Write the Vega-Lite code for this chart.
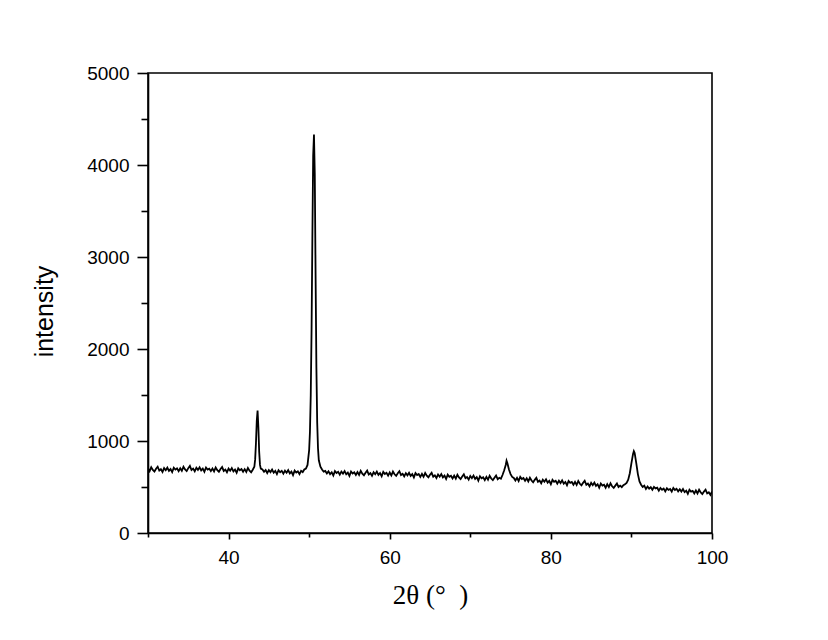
{
  "$schema": "https://vega.github.io/schema/vega-lite/v6.json",
  "width": 564,
  "height": 460,
  "autosize": {"type": "none"},
  "padding": {"left": 148, "top": 73, "right": 116, "bottom": 107},
  "background": "white",
  "config": {
    "view": {"stroke": "black", "strokeWidth": 1.6},
    "axis": {
      "domainColor": "black", "domainWidth": 1.6,
      "tickColor": "black", "tickWidth": 1.6,
      "labelColor": "black", "labelFont": "Liberation Sans", "labelFontSize": 19,
      "titleColor": "black", "grid": false
    }
  },
  "data": {"values": [
    {"t":30.0,"i":702},{"t":30.2,"i":672},{"t":30.4,"i":715},{"t":30.6,"i":685},{"t":30.8,"i":668},{"t":31.0,"i":698},{"t":31.2,"i":720},{"t":31.4,"i":678},{"t":31.6,"i":693},{"t":31.8,"i":664},
    {"t":32.0,"i":705},{"t":32.2,"i":682},{"t":32.4,"i":710},{"t":32.6,"i":675},{"t":32.8,"i":695},{"t":33.0,"i":662},{"t":33.2,"i":710},{"t":33.4,"i":689},{"t":33.6,"i":702},{"t":33.8,"i":672},
    {"t":34.0,"i":704},{"t":34.2,"i":676},{"t":34.4,"i":719},{"t":34.6,"i":690},{"t":34.8,"i":673},{"t":35.0,"i":705},{"t":35.2,"i":730},{"t":35.4,"i":685},{"t":35.6,"i":700},{"t":35.8,"i":671},
    {"t":36.0,"i":710},{"t":36.2,"i":686},{"t":36.4,"i":714},{"t":36.6,"i":680},{"t":36.8,"i":700},{"t":37.0,"i":665},{"t":37.2,"i":712},{"t":37.4,"i":690},{"t":37.6,"i":700},{"t":37.8,"i":672},
    {"t":38.0,"i":700},{"t":38.2,"i":670},{"t":38.4,"i":712},{"t":38.6,"i":683},{"t":38.8,"i":666},{"t":39.0,"i":695},{"t":39.2,"i":717},{"t":39.4,"i":675},{"t":39.6,"i":690},{"t":39.8,"i":660},
    {"t":40.0,"i":700},{"t":40.2,"i":677},{"t":40.4,"i":705},{"t":40.6,"i":670},{"t":40.8,"i":690},{"t":41.0,"i":655},{"t":41.2,"i":703},{"t":41.4,"i":682},{"t":41.6,"i":695},{"t":41.8,"i":665},
    {"t":42.0,"i":694},{"t":42.2,"i":664},{"t":42.4,"i":707},{"t":42.6,"i":677},{"t":42.8,"i":660},{"t":43.0,"i":688},{"t":43.2,"i":720},{"t":43.3,"i":800},{"t":43.4,"i":980},{"t":43.5,"i":1220},
    {"t":43.6,"i":1330},{"t":43.7,"i":1150},{"t":43.8,"i":880},{"t":43.9,"i":740},{"t":44.0,"i":700},{"t":44.2,"i":690},{"t":44.4,"i":665},{"t":44.6,"i":685},{"t":44.8,"i":652},
    {"t":45.0,"i":683},{"t":45.2,"i":662},{"t":45.4,"i":690},{"t":45.6,"i":655},{"t":45.8,"i":675},{"t":46.0,"i":640},{"t":46.2,"i":682},{"t":46.4,"i":660},{"t":46.6,"i":675},{"t":46.8,"i":645},
    {"t":47.0,"i":678},{"t":47.2,"i":655},{"t":47.4,"i":683},{"t":47.6,"i":648},{"t":47.8,"i":668},{"t":48.0,"i":630},{"t":48.2,"i":678},{"t":48.4,"i":657},{"t":48.6,"i":670},{"t":48.8,"i":640},
    {"t":49.0,"i":675},{"t":49.2,"i":662},{"t":49.4,"i":690},{"t":49.6,"i":700},{"t":49.8,"i":740},{"t":50.0,"i":900},{"t":50.1,"i":1100},{"t":50.2,"i":1500},{"t":50.3,"i":2200},{"t":50.4,"i":3200},
    {"t":50.5,"i":4100},{"t":50.6,"i":4330},{"t":50.7,"i":3900},{"t":50.8,"i":2800},{"t":50.9,"i":1800},{"t":51.0,"i":1200},{"t":51.1,"i":920},{"t":51.2,"i":790},{"t":51.4,"i":720},{"t":51.6,"i":690},{"t":51.8,"i":668},
    {"t":52.0,"i":675},{"t":52.2,"i":648},{"t":52.4,"i":670},{"t":52.6,"i":640},{"t":52.8,"i":660},{"t":53.0,"i":625},{"t":53.2,"i":673},{"t":53.4,"i":652},{"t":53.6,"i":665},{"t":53.8,"i":635},
    {"t":54.0,"i":668},{"t":54.2,"i":645},{"t":54.4,"i":673},{"t":54.6,"i":638},{"t":54.8,"i":657},{"t":55.0,"i":620},{"t":55.2,"i":668},{"t":55.4,"i":647},{"t":55.6,"i":660},{"t":55.8,"i":630},
    {"t":56.0,"i":662},{"t":56.2,"i":632},{"t":56.4,"i":675},{"t":56.6,"i":645},{"t":56.8,"i":628},{"t":57.0,"i":656},{"t":57.2,"i":678},{"t":57.4,"i":636},{"t":57.6,"i":651},{"t":57.8,"i":622},
    {"t":58.0,"i":660},{"t":58.2,"i":639},{"t":58.4,"i":667},{"t":58.6,"i":632},{"t":58.8,"i":652},{"t":59.0,"i":617},{"t":59.2,"i":665},{"t":59.4,"i":642},{"t":59.6,"i":654},{"t":59.8,"i":623},
    {"t":60.0,"i":658},{"t":60.2,"i":625},{"t":60.4,"i":668},{"t":60.6,"i":638},{"t":60.8,"i":621},{"t":61.0,"i":649},{"t":61.2,"i":672},{"t":61.4,"i":630},{"t":61.6,"i":644},{"t":61.8,"i":616},
    {"t":62.0,"i":650},{"t":62.2,"i":627},{"t":62.4,"i":655},{"t":62.6,"i":620},{"t":62.8,"i":640},{"t":63.0,"i":604},{"t":63.2,"i":651},{"t":63.4,"i":630},{"t":63.6,"i":641},{"t":63.8,"i":610},
    {"t":64.0,"i":642},{"t":64.2,"i":611},{"t":64.4,"i":653},{"t":64.6,"i":623},{"t":64.8,"i":605},{"t":65.0,"i":633},{"t":65.2,"i":654},{"t":65.4,"i":612},{"t":65.6,"i":627},{"t":65.8,"i":598},
    {"t":66.0,"i":636},{"t":66.2,"i":612},{"t":66.4,"i":640},{"t":66.6,"i":605},{"t":66.8,"i":624},{"t":67.0,"i":587},{"t":67.2,"i":634},{"t":67.4,"i":612},{"t":67.6,"i":623},{"t":67.8,"i":592},
    {"t":68.0,"i":623},{"t":68.2,"i":591},{"t":68.4,"i":634},{"t":68.6,"i":604},{"t":68.8,"i":586},{"t":69.0,"i":613},{"t":69.2,"i":638},{"t":69.4,"i":596},{"t":69.6,"i":609},{"t":69.8,"i":580},
    {"t":70.0,"i":620},{"t":70.2,"i":596},{"t":70.4,"i":624},{"t":70.6,"i":589},{"t":70.8,"i":608},{"t":71.0,"i":570},{"t":71.2,"i":617},{"t":71.4,"i":595},{"t":71.6,"i":606},{"t":71.8,"i":575},
    {"t":72.0,"i":610},{"t":72.2,"i":579},{"t":72.4,"i":622},{"t":72.6,"i":592},{"t":72.8,"i":574},{"t":73.0,"i":600},{"t":73.2,"i":625},{"t":73.4,"i":585},{"t":73.6,"i":600},{"t":73.8,"i":590},
    {"t":74.0,"i":630},{"t":74.2,"i":680},{"t":74.4,"i":740},{"t":74.5,"i":785},{"t":74.6,"i":760},{"t":74.8,"i":690},{"t":75.0,"i":640},{"t":75.2,"i":610},{"t":75.4,"i":598},{"t":75.6,"i":570},{"t":75.8,"i":600},
    {"t":76.0,"i":565},{"t":76.2,"i":610},{"t":76.4,"i":587},{"t":76.6,"i":598},{"t":76.8,"i":567},{"t":77.0,"i":595},{"t":77.2,"i":560},{"t":77.4,"i":600},{"t":77.6,"i":570},{"t":77.8,"i":552},
    {"t":78.0,"i":578},{"t":78.2,"i":600},{"t":78.4,"i":557},{"t":78.6,"i":570},{"t":78.8,"i":541},{"t":79.0,"i":580},{"t":79.2,"i":557},{"t":79.4,"i":583},{"t":79.6,"i":548},{"t":79.8,"i":567},
    {"t":80.0,"i":530},{"t":80.2,"i":578},{"t":80.4,"i":557},{"t":80.6,"i":568},{"t":80.8,"i":537},{"t":81.0,"i":568},{"t":81.2,"i":543},{"t":81.4,"i":572},{"t":81.6,"i":537},{"t":81.8,"i":555},
    {"t":82.0,"i":520},{"t":82.2,"i":566},{"t":82.4,"i":545},{"t":82.6,"i":555},{"t":82.8,"i":524},{"t":83.0,"i":555},{"t":83.2,"i":522},{"t":83.4,"i":565},{"t":83.6,"i":535},{"t":83.8,"i":518},
    {"t":84.0,"i":545},{"t":84.2,"i":568},{"t":84.4,"i":524},{"t":84.6,"i":538},{"t":84.8,"i":508},{"t":85.0,"i":545},{"t":85.2,"i":520},{"t":85.4,"i":548},{"t":85.6,"i":512},{"t":85.8,"i":530},
    {"t":86.0,"i":492},{"t":86.2,"i":538},{"t":86.4,"i":515},{"t":86.6,"i":524},{"t":86.8,"i":492},{"t":87.0,"i":530},{"t":87.2,"i":500},{"t":87.4,"i":540},{"t":87.6,"i":508},{"t":87.8,"i":490},
    {"t":88.0,"i":515},{"t":88.2,"i":538},{"t":88.4,"i":500},{"t":88.6,"i":515},{"t":88.8,"i":498},{"t":89.0,"i":520},{"t":89.2,"i":530},{"t":89.4,"i":545},{"t":89.6,"i":580},{"t":89.8,"i":650},
    {"t":90.0,"i":760},{"t":90.2,"i":860},{"t":90.3,"i":890},{"t":90.4,"i":870},{"t":90.6,"i":760},{"t":90.8,"i":640},{"t":91.0,"i":560},{"t":91.2,"i":525},{"t":91.4,"i":500},{"t":91.6,"i":515},{"t":91.8,"i":478},
    {"t":92.0,"i":505},{"t":92.2,"i":482},{"t":92.4,"i":498},{"t":92.6,"i":470},{"t":92.8,"i":500},{"t":93.0,"i":485},{"t":93.2,"i":492},{"t":93.4,"i":460},{"t":93.6,"i":490},{"t":93.8,"i":470},
    {"t":94.0,"i":483},{"t":94.2,"i":453},{"t":94.4,"i":486},{"t":94.6,"i":468},{"t":94.8,"i":478},{"t":95.0,"i":450},{"t":95.2,"i":490},{"t":95.4,"i":467},{"t":95.6,"i":480},{"t":95.8,"i":452},
    {"t":96.0,"i":475},{"t":96.2,"i":450},{"t":96.4,"i":477},{"t":96.6,"i":445},{"t":96.8,"i":460},{"t":97.0,"i":425},{"t":97.2,"i":470},{"t":97.4,"i":450},{"t":97.6,"i":458},{"t":97.8,"i":430},
    {"t":98.0,"i":462},{"t":98.2,"i":430},{"t":98.4,"i":470},{"t":98.6,"i":440},{"t":98.8,"i":423},{"t":99.0,"i":450},{"t":99.2,"i":470},{"t":99.4,"i":430},{"t":99.6,"i":442},{"t":99.8,"i":415},
    {"t":100.0,"i":450}
  ]},
  "mark": {"type": "line", "color": "black", "strokeWidth": 1.8, "clip": true},
  "encoding": {
    "x": {
      "field": "t", "type": "quantitative",
      "scale": {"domain": [30, 100], "nice": false, "zero": false},
      "axis": {
        "title": "2θ (° \u00a0)",
        "titleFont": "Liberation Serif", "titleFontSize": 27, "titleFontWeight": "normal",
        "titlePadding": 15,
        "values": [30, 40, 50, 60, 70, 80, 90, 100],
        "labelExpr": "datum.value % 20 === 0 ? datum.label : ''",
        "tickSize": {"condition": {"test": "datum.value % 20 === 0", "value": 6}, "value": 4},
        "labelPadding": 9,
        "labelFlush": false
      }
    },
    "y": {
      "field": "i", "type": "quantitative",
      "scale": {"domain": [0, 5000], "nice": false},
      "axis": {
        "title": "intensity",
        "titleFont": "Liberation Sans", "titleFontSize": 25, "titleFontWeight": "normal",
        "titlePadding": 29,
        "titleY": 238,
        "values": [0, 500, 1000, 1500, 2000, 2500, 3000, 3500, 4000, 4500, 5000],
        "labelExpr": "datum.value % 1000 === 0 ? datum.label : ''",
        "format": "d",
        "tickSize": {"condition": {"test": "datum.value % 1000 === 0", "value": 11}, "value": 7},
        "labelPadding": 8
      }
    }
  }
}
